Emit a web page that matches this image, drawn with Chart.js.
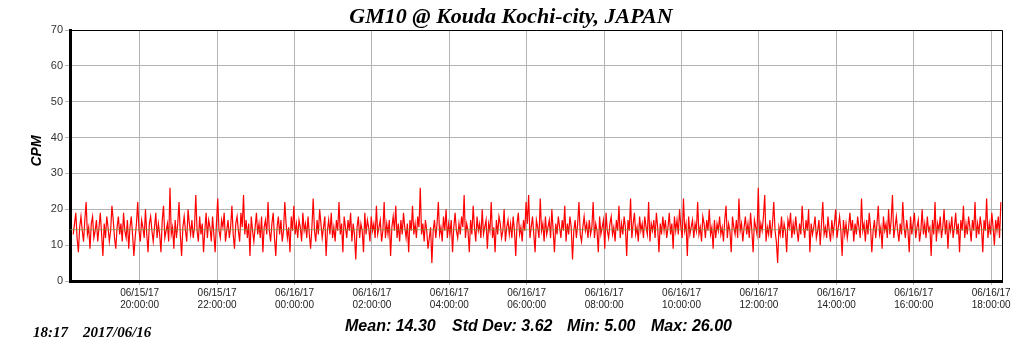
<!DOCTYPE html>
<html>
<head>
<meta charset="utf-8">
<title>GM10 @ Kouda Kochi-city, JAPAN</title>
<script src="https://cdn.jsdelivr.net/npm/chart.js@4/dist/chart.umd.min.js"></script>
<style>
    html, body { margin: 0; padding: 0; background: #ffffff; }
    #wrap { width: 1024px; height: 351px; }
</style>
</head>
<body>
<div id="wrap"><canvas id="cpmChart" width="1024" height="351"></canvas></div>
<script>
// ============================
// DATA
// ============================

const titleText = 'GM10 @ Kouda Kochi-city, JAPAN';
const yAxisLabel = 'CPM';
const stampTime = '18:17';
const stampDate = '2017/06/16';

// hours counted from 06/15/17 00:00
const startHour = 18 + 17 / 60;
const stepHours = 2 / 60;
const xTickHours = [20, 22, 24, 26, 28, 30, 32, 34, 36, 38, 40, 42];
const yTicks = [0, 10, 20, 30, 40, 50, 60, 70];

const statMean = 14.30;
const statStdDev = 3.62;
const statMin = 5.00;
const statMax = 26.00;

// counts per minute, one sample every 2 minutes
const cpmValues = [
    13,16,19,12,8,15,18,14,11,17,22,13,15,9,16,18,12,14,17,11,
    15,19,13,7,16,12,18,15,11,14,21,17,12,9,15,18,13,16,11,19,
    14,12,17,9,15,18,13,7,12,16,22,14,11,17,15,12,20,13,8,16,
    18,14,11,15,19,12,16,13,8,17,21,12,14,16,11,26,13,15,9,17,
    12,16,22,13,7,15,18,14,11,20,16,13,17,12,15,24,14,11,18,13,
    16,8,14,19,12,17,15,11,18,13,8,16,23,14,12,17,15,19,11,14,
    17,12,15,21,13,9,16,18,14,11,19,15,24,13,17,12,16,7,18,14,
    11,15,19,13,16,12,18,8,15,17,13,22,14,11,16,19,12,7,15,18,
    13,17,11,14,22,16,12,15,8,18,14,21,13,16,12,17,15,11,19,14,
    16,12,18,13,9,15,23,14,11,17,13,20,16,12,15,18,7,14,17,13,
    19,12,15,11,17,14,22,13,16,8,18,15,12,17,14,19,11,16,13,6,
    15,18,12,16,14,8,19,13,17,15,11,18,14,16,12,21,13,15,17,11,
    14,22,12,16,13,17,7,15,18,14,21,12,16,11,17,13,19,15,12,16,
    8,17,14,21,13,16,12,18,15,26,13,16,11,17,14,9,12,15,5,14,
    17,12,16,22,13,15,11,18,14,20,12,16,13,17,8,15,19,14,12,16,
    13,18,15,24,12,16,14,8,17,13,21,15,11,18,14,16,12,20,13,15,
    17,9,16,14,22,12,15,8,17,13,18,16,12,14,20,11,15,17,13,16,
    12,18,14,7,16,19,13,15,11,17,14,22,16,24,12,15,18,13,8,17,
    15,12,23,14,16,11,18,13,15,17,12,20,14,8,16,13,18,15,12,17,
    14,21,11,16,13,18,15,6,14,17,12,16,22,13,11,15,18,14,16,12,
    17,13,15,22,12,16,14,8,18,13,15,17,9,19,14,12,16,18,13,15,
    11,17,14,21,12,16,13,18,15,7,17,14,23,12,16,19,13,15,11,18,
    14,16,12,18,15,13,22,11,16,14,17,12,19,15,8,16,13,18,14,17,
    12,15,19,13,16,9,18,14,17,13,20,15,12,23,14,16,7,18,13,15,
    17,12,16,14,22,13,15,11,18,16,12,17,14,20,13,15,9,17,12,16,
    14,18,13,15,11,17,21,12,16,14,8,18,15,13,17,12,23,14,16,11,
    15,18,13,16,12,19,14,8,17,15,13,26,12,16,14,18,24,11,15,13,
    17,12,16,22,14,11,5,15,13,18,12,16,14,8,17,15,19,12,16,13,
    18,14,11,16,13,21,15,12,17,14,20,8,16,13,15,18,12,14,17,10,
    16,22,13,15,12,18,14,11,17,13,16,20,12,15,18,14,7,17,13,16,
    12,15,19,14,17,11,16,13,18,15,12,23,14,16,11,17,13,19,15,8,
    14,17,12,16,21,13,15,9,18,14,16,12,20,13,17,24,12,15,18,14,
    11,16,13,22,15,12,17,14,8,18,13,16,19,12,15,17,11,14,20,13,
    16,12,18,14,15,7,17,13,22,11,16,14,18,12,15,20,13,17,9,16,
    14,18,12,15,19,13,16,8,17,14,21,12,16,13,18,15,11,17,14,22,
    12,16,13,18,15,8,17,14,23,12,16,13,19,15,10,17,14,18,12,22
];

// ============================
// HELPERS
// ============================

function pad2(n) {
    return String(n).padStart(2, '0');
}

// 20 -> ['06/15/17', '20:00:00']
function hourLabel(h) {
    const day = 15 + Math.floor(h / 24);
    const hh = Math.round(h) % 24;
    return ['06/' + pad2(day) + '/17', pad2(hh) + ':00:00'];
}

const xMin = 18.2;
const xMax = 42.28;

const cpmPoints = cpmValues.map((v, i) => ({ x: startHour + i * stepHours, y: v }));
const meanPoints = [{ x: xMin, y: statMean }, { x: xMax, y: statMean }];

// ============================
// TEXT + FRAME PLUGIN
// ============================

const decorPlugin = {
    id: 'decor',
    afterDraw(chart) {
        const { ctx, chartArea } = chart;
        ctx.save();

        // thin frame top / right
        ctx.strokeStyle = '#000000';
        ctx.lineWidth = 1;
        ctx.beginPath();
        ctx.moveTo(chartArea.left, chartArea.top + 0.5);
        ctx.lineTo(chartArea.right + 0.5, chartArea.top + 0.5);
        ctx.lineTo(chartArea.right + 0.5, chartArea.bottom);
        ctx.stroke();

        ctx.fillStyle = '#000000';

        // title
        ctx.font = 'bold italic 22px "Liberation Serif", "Times New Roman", serif';
        ctx.textAlign = 'center';
        ctx.textBaseline = 'alphabetic';
        ctx.fillText(titleText, 511, 23);

        // y label
        ctx.save();
        ctx.translate(37, 151);
        ctx.rotate(-Math.PI / 2);
        ctx.font = 'bold italic 14px "Liberation Sans", Arial, sans-serif';
        ctx.textAlign = 'center';
        ctx.textBaseline = 'middle';
        ctx.fillText(yAxisLabel, 0, 0);
        ctx.restore();

        // time stamp
        ctx.font = 'bold italic 15px "Liberation Serif", "Times New Roman", serif';
        ctx.textAlign = 'left';
        ctx.textBaseline = 'middle';
        ctx.fillText(stampTime, 33, 333);
        ctx.fillText(stampDate, 83, 333);

        // stats
        ctx.font = 'bold italic 16px "Liberation Sans", Arial, sans-serif';
        ctx.fillText('Mean: ' + statMean.toFixed(2), 345, 327);
        ctx.fillText('Std Dev: ' + statStdDev.toFixed(2), 452, 327);
        ctx.fillText('Min: ' + statMin.toFixed(2), 567, 327);
        ctx.fillText('Max: ' + statMax.toFixed(2), 651, 327);

        ctx.restore();
    }
};

// ============================
// CHART
// ============================

const tickFont = { family: '"Liberation Sans", Arial, sans-serif', size: 11 };

new Chart(document.getElementById('cpmChart'), {
    type: 'line',
    data: {
        datasets: [
            {
                label: 'Mean',
                data: meanPoints,
                borderColor: 'rgba(120,150,60,0.75)',
                borderWidth: 1,
                pointRadius: 0,
                order: 0
            },
            {
                label: 'CPM',
                data: cpmPoints,
                borderColor: '#ff0000',
                borderWidth: 1.2,
                pointRadius: 0,
                tension: 0,
                order: 1
            }
        ]
    },
    options: {
        responsive: false,
        devicePixelRatio: 1,
        animation: false,
        layout: { padding: { top: 30, right: 22, bottom: 0, left: 0 } },
        plugins: {
            legend: { display: false },
            tooltip: { enabled: false },
            title: { display: false }
        },
        scales: {
            x: {
                type: 'linear',
                min: xMin,
                max: xMax,
                afterBuildTicks: scale => {
                    scale.ticks = xTickHours.map(v => ({ value: v }));
                },
                afterFit: scale => { scale.height = 70; },
                border: { color: '#000000', width: 3 },
                grid: { color: '#b4b4b4', lineWidth: 1, tickLength: 4 },
                ticks: {
                    autoSkip: false,
                    maxRotation: 0,
                    color: '#222222',
                    padding: 2,
                    font: { family: '"Liberation Sans", Arial, sans-serif', size: 10 },
                    callback: value => hourLabel(value)
                }
            },
            y: {
                min: 0,
                max: 70,
                afterBuildTicks: scale => {
                    scale.ticks = yTicks.map(v => ({ value: v }));
                },
                afterFit: scale => { scale.width = 70; },
                border: { color: '#000000', width: 3 },
                grid: { color: '#b4b4b4', lineWidth: 1, tickLength: 5 },
                ticks: {
                    color: '#333333',
                    padding: 2,
                    font: tickFont
                }
            }
        }
    },
    plugins: [decorPlugin]
});
</script>
</body>
</html>
